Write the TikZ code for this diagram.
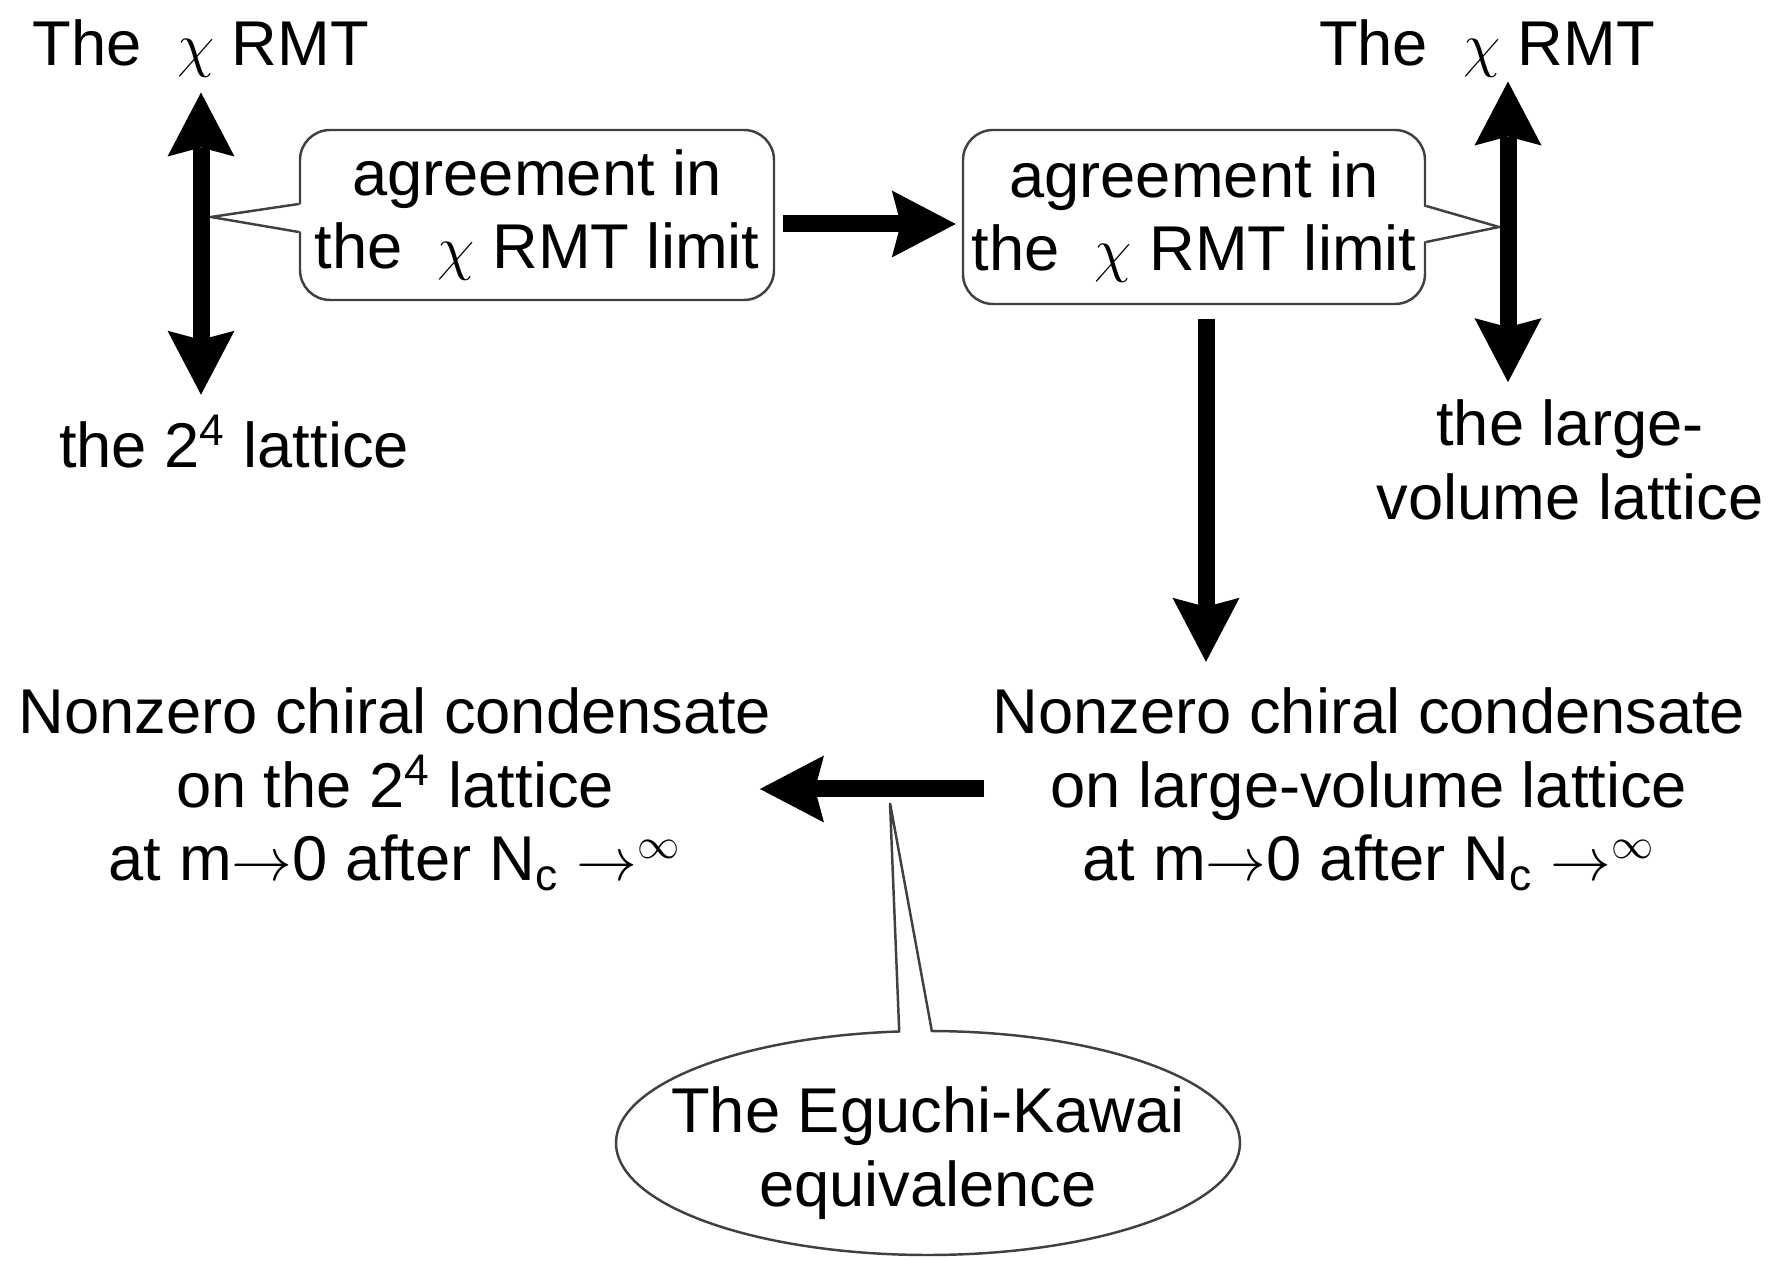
\documentclass[tikz,border=0pt]{standalone}
\usepackage{fontspec}
\setmainfont{Liberation Sans}
\usetikzlibrary{arrows.meta,shapes.callouts}

\tikzset{
    txt/.style={align=center, inner sep=0pt, font=\fontsize{18}{21}\selectfont},
    balloon/.style={txt, draw=black!75, line width=0.7pt, rounded corners=3mm, fill=white},
    pinline/.style={draw=black!75, line width=0.7pt},
    bigarrow/.style={line width=1.7mm, -{Stealth[length=6.4mm, width=6.7mm, inset=0.9mm, line width=0pt]}},
    dblarrow/.style={line width=1.7mm, {Stealth[length=6.4mm, width=6.7mm, inset=0.9mm, line width=0pt]}-{Stealth[length=6.4mm, width=6.7mm, inset=0.9mm, line width=0pt]}}
}

\begin{document}
\begin{tikzpicture}[x=0.1mm, y=-0.1mm]
    \useasboundingbox (0,0) rectangle (1776,1261);

    \node (lrmt) [txt] at (201,48) {The\ \ $\chi$ RMT};
    \node (llat) [txt] at (234,442) {the 2\textsuperscript{4} lattice};
    \node (rrmt) [txt] at (1487,48) {The\ \ $\chi$ RMT};
    \node (rlat) [txt] at (1570,460) {the large-\\volume lattice};

    \node (box1) [balloon, minimum width=47.4mm, minimum height=17mm] at (537,215) {agreement in\\the\ \ $\chi$ RMT limit};
    \node (box2) [balloon, minimum width=46.2mm, minimum height=17.4mm] at (1194,217) {agreement in\\the\ \ $\chi$ RMT limit};

    \node (lcond) [txt] at (395,789) {Nonzero chiral condensate\\on the 2\textsuperscript{4} lattice\\at m$\to$0 after N\textsubscript{c} $\to$\textsuperscript{$\infty$}};
    \node (rcond) [txt] at (1369,789) {Nonzero chiral condensate\\on large-volume lattice\\at m$\to$0 after N\textsubscript{c} $\to$\textsuperscript{$\infty$}};

    \coordinate (lpin) at (211,217);
    \coordinate (rpin) at (1499,227);
    \coordinate (ekpin) at (890,803);

    \node (ek) [ellipse callout, draw=black!75, line width=0.7pt, fill=white,
        minimum width=62.4mm, minimum height=22.4mm, inner sep=0pt,
        callout absolute pointer={(ekpin)}, callout pointer arc=6,
        label={[txt, yshift=-1mm]center:The Eguchi-Kawai\\equivalence}] at (928,1143) {};

    % balloon pointers
    \fill[white] ([xshift=0.5mm,yshift=1.1mm]box1.west) -- (lpin) -- ([xshift=0.5mm,yshift=-1.7mm]box1.west) -- cycle;
    \draw[pinline] ([yshift=1.1mm]box1.west) -- (lpin) -- ([yshift=-1.7mm]box1.west);
    \fill[white] ([xshift=-0.5mm,yshift=1.1mm]box2.east) -- (rpin) -- ([xshift=-0.5mm,yshift=-2.5mm]box2.east) -- cycle;
    \draw[pinline] ([yshift=1.1mm]box2.east) -- (rpin) -- ([yshift=-2.5mm]box2.east);

    % arrows
    \draw[dblarrow, shorten <=1.5mm, shorten >=2mm] (lrmt.south) -- (lrmt.south |- llat.north);
    \draw[dblarrow, shorten <=0.4mm, shorten >=1.7mm] ([xshift=2.1mm]rrmt.south) -- ([xshift=2.1mm]rrmt.south |- rlat.north);
    \draw[bigarrow, shorten <=0.8mm, shorten >=0.6mm] ([yshift=-0.9mm]box1.east) -- ([yshift=-0.9mm]box1.east -| box2.west);
    \draw[bigarrow, shorten >=2.5mm] ([xshift=1.2mm,yshift=-1.4mm]box2.south) -- ([xshift=1.2mm]box2.south |- rcond.north);
    \draw[bigarrow, shorten <=0.8mm, shorten >=-1.2mm] (rcond.west) -- (lcond.east);
\end{tikzpicture}
\end{document}
